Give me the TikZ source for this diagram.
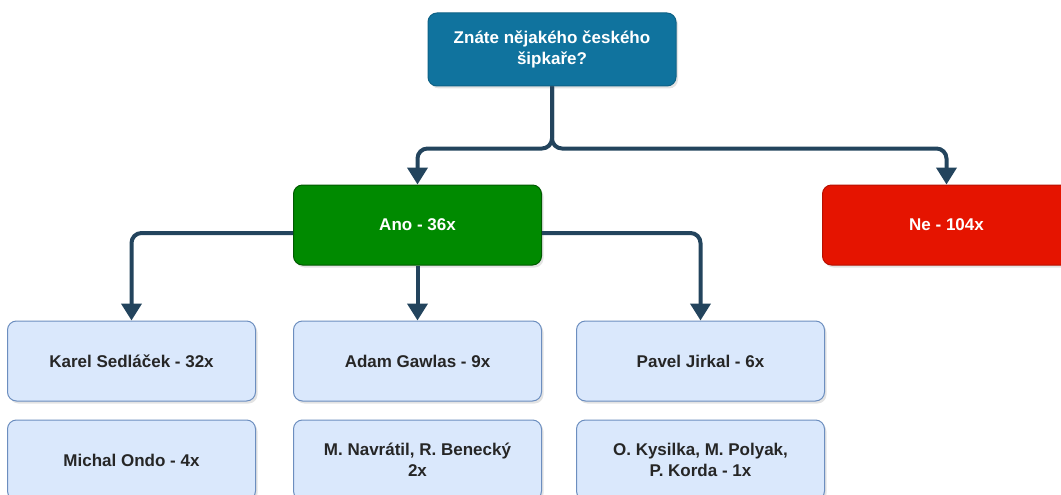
\documentclass[tikz,border=0pt]{standalone}
\usepackage{fontspec}
\setmainfont{Liberation Sans}
\usepackage{tikz}
\usetikzlibrary{arrows.meta,positioning,shadows}

\definecolor{qblue}{HTML}{10739E}
\definecolor{anogreen}{HTML}{008A00}
\definecolor{nered}{HTML}{E51400}
\definecolor{namefill}{HTML}{DAE8FC}
\definecolor{namedraw}{HTML}{6C8EBF}
\definecolor{linkcol}{HTML}{23445D}

\begin{document}
\begin{tikzpicture}[
    x=1pt, y=-1pt,
    node distance=55pt and 36pt,
    box/.style={draw, rounded corners=9pt, minimum width=248pt, minimum height=80pt,
        align=center, inner sep=2pt, line width=1pt,
        font=\fontsize{17}{20.5}\selectfont\bfseries,
        drop shadow={opacity=0.22, shadow xshift=2pt, shadow yshift=-2.5pt}},
    qbox/.style={box, fill=qblue, draw=qblue!85!black, text=white, minimum height=73pt},
    anobox/.style={box, fill=anogreen, draw=anogreen!65!black, text=white},
    nebox/.style={box, fill=nered, draw=nered!80!black, text=white},
    namebox/.style={box, fill=namefill, draw=namedraw, text=black!85},
    link/.style={-{Triangle[width=20pt,length=17pt]}, line width=4pt, draw=linkcol, rounded corners=10pt}
]
\useasboundingbox[fill=white] (0,0) rectangle (1061,495);

\node[qbox] (q) at (552,49.5) {Znáte nějakého českého\\šipkaře?};
\node[anobox] (ano) at (417.5,225) {Ano - 36x};
\node[nebox] (ne) [right=280pt of ano] {Ne - 104x};

\node[namebox] (adam) [below=of ano] {Adam Gawlas - 9x};
\node[namebox] (karel) [left=37pt of adam] {Karel Sedláček - 32x};
\node[namebox] (pavel) [right=34pt of adam] {Pavel Jirkal - 6x};

\node[namebox] (ondo) [below=18pt of karel] {Michal Ondo - 4x};
\node[namebox] (navratil) [below=18pt of adam] {M. Navrátil, R. Benecký\\2x};
\node[namebox] (kysilka) [below=18pt of pavel] {O. Kysilka, M. Polyak,\\P. Korda - 1x};

% answers
\draw[link] (q.south) -- ++(0,62) -| (ano.north);
\draw[link] (q.south) -- ++(0,62) -| (ne.north);

% names
\draw[link] ([yshift=-8pt]ano.west) -| (karel.north);
\draw[link] (ano.south) -- (adam.north);
\draw[link] ([yshift=-8pt]ano.east) -| (pavel.north);
\end{tikzpicture}
\end{document}
